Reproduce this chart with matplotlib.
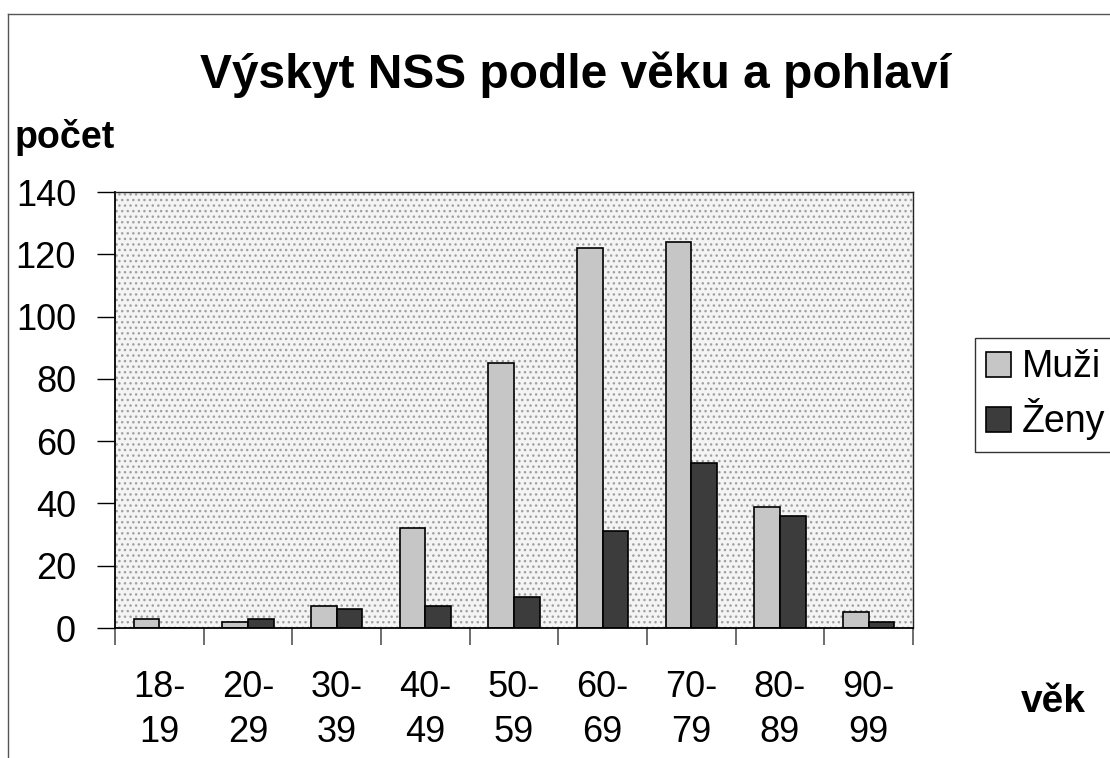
import matplotlib.pyplot as plt
import numpy as np
from matplotlib.lines import Line2D
from matplotlib.patches import Rectangle

plt.rcParams['font.family'] = ['Liberation Sans', 'DejaVu Sans']

# Data
kategorie = ["18-\n19", "20-\n29", "30-\n39", "40-\n49", "50-\n59",
             "60-\n69", "70-\n79", "80-\n89", "90-\n99"]
muzi = [3, 2, 7, 32, 85, 122, 124, 39, 5]
zeny = [0, 3, 6, 7, 10, 31, 53, 36, 2]

fig = plt.figure(figsize=(11.1, 7.58), dpi=100)
ax = fig.add_axes([115 / 1110, 1 - 628 / 758, 798 / 1110, 436 / 758])

# speckled gray background of plot area
ax.set_facecolor('#f4f4f4')
ax.add_patch(Rectangle((0, 0), 1, 1, transform=ax.transAxes, facecolor='none',
                       edgecolor='#a0a0a0', hatch='...', linewidth=0, zorder=0))

x = np.arange(len(kategorie)) + 0.5
w = 0.29
ax.bar(x - w / 2, muzi, w, color='#c6c6c6', edgecolor='black', linewidth=1.2,
       label='Muži', zorder=2)
ax.bar(x + w / 2, zeny, w, color='#3c3c3c', edgecolor='black', linewidth=1.2,
       label='Ženy', zorder=2)

ax.set_xlim(0, len(kategorie))
ax.set_ylim(0, 140)
ax.set_yticks(range(0, 141, 20))
ax.tick_params(axis='y', direction='out', length=13, width=1, pad=15, labelsize=26)

ax.set_xticks(range(len(kategorie) + 1))
ax.set_xticklabels([])
ax.tick_params(axis='x', which='major', direction='out', length=12, width=1.2,
               color='#555555')
ax.set_xticks(x, minor=True)
ax.set_xticklabels(kategorie, minor=True, fontsize=26, linespacing=1.4)
ax.tick_params(axis='x', which='minor', length=0, pad=30)

for s in ['top', 'right']:
    ax.spines[s].set_linewidth(1)
    ax.spines[s].set_color('#222222')
for s in ['left', 'bottom']:
    ax.spines[s].set_linewidth(1.3)

fig.text(575 / 1110, 1 - 75 / 758, "Výskyt NSS podle věku a pohlaví",
         ha='center', va='center', fontsize=34.5, fontweight='bold')
fig.text(15 / 1110, 1 - 138 / 758, "počet", ha='left', va='center',
         fontsize=27, fontweight='bold')
fig.text(1053 / 1110, 1 - 702 / 758, "věk", ha='center', va='center',
         fontsize=28, fontweight='bold')

leg = ax.legend(loc='upper left', bbox_to_anchor=(975 / 1110, 1 - 338 / 758),
                bbox_transform=fig.transFigure, fontsize=27, frameon=True,
                fancybox=False, edgecolor='black', handlelength=0.65,
                handleheight=0.65, handletextpad=0.3, borderpad=0.3,
                labelspacing=0.35, borderaxespad=0)
leg.get_frame().set_linewidth(1)

# outer chart frame
fig.add_artist(Line2D([8 / 1110, 8 / 1110], [0, 1 - 14 / 758],
                      transform=fig.transFigure, color='#555555', lw=1))
fig.add_artist(Line2D([8 / 1110, 1], [1 - 14 / 758, 1 - 14 / 758],
                      transform=fig.transFigure, color='#555555', lw=1))

fig.savefig("out.png", dpi=100)
